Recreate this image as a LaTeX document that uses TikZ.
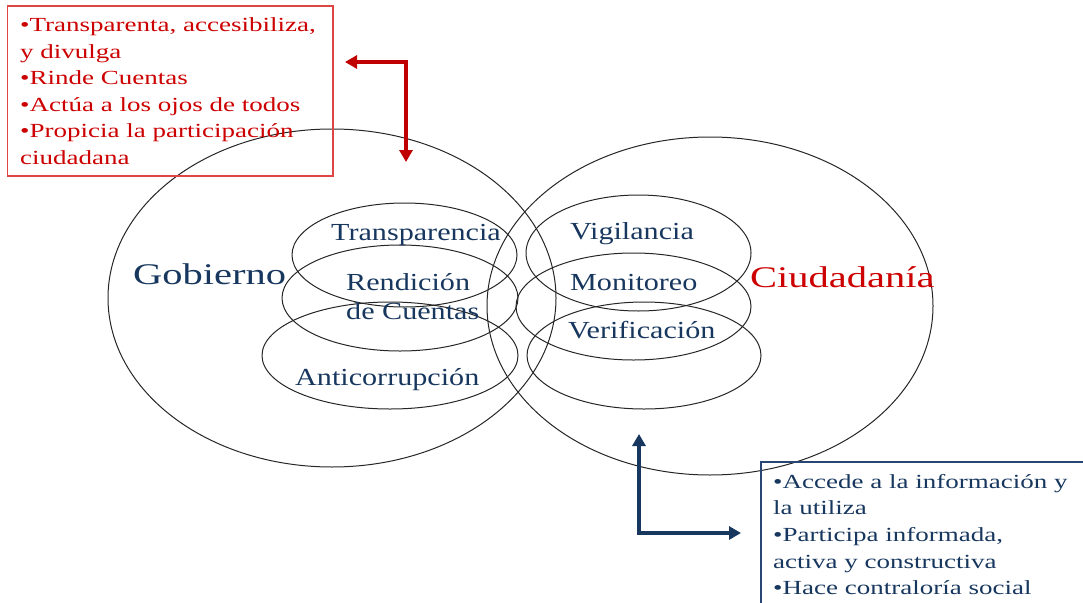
\documentclass[tikz,border=0pt]{standalone}
\usepackage{fontspec}
\setmainfont{Liberation Serif}
\newfontfamily\wideserif[FakeStretch=1.35]{Liberation Serif}
\newfontfamily\midserif[FakeStretch=1.23]{Liberation Serif}
\usetikzlibrary{arrows.meta}
\definecolor{navy}{RGB}{23,55,94}
\definecolor{redtxt}{RGB}{204,0,0}
\definecolor{redbox}{RGB}{222,70,70}
\definecolor{redarrow}{RGB}{192,0,0}
\definecolor{bluebox}{RGB}{40,70,115}
\tikzset{
  ring/.style={draw=black!85, line width=1pt},
  boxtext/.style={anchor=base west, inner sep=0pt, font=\wideserif\fontsize{20}{24}\selectfont},
  midtext/.style={anchor=base west, inner sep=0pt, text=navy, font=\midserif\fontsize{24.5}{28}\selectfont},
  bigtext/.style={anchor=base west, inner sep=0pt, font=\wideserif\fontsize{30}{34}\selectfont},
  elbow/.style={line width=3.8pt, line join=miter, {Triangle[length=12pt,width=13pt]}-{Triangle[length=12pt,width=13pt]}}
}
\begin{document}
\begin{tikzpicture}[x=1pt,y=-1pt]
\useasboundingbox (0,0) rectangle (1083,602);
\begin{scope}
\clip (0,0) rectangle (1083,602);
% big ellipses
\draw[ring] (332,298) ellipse [x radius=224pt, y radius=169pt];
\draw[ring] (710,306) ellipse [x radius=223pt, y radius=169pt];
% small ellipses left
\draw[ring] (404.5,255) ellipse [x radius=112.5pt, y radius=52pt];
\draw[ring] (400,298) ellipse [x radius=118pt, y radius=53pt];
\draw[ring] (390,355.5) ellipse [x radius=128pt, y radius=53.5pt];
% small ellipses right
\draw[ring] (638.5,253) ellipse [x radius=112.5pt, y radius=58pt];
\draw[ring] (633.5,306.5) ellipse [x radius=117.5pt, y radius=53.5pt];
\draw[ring] (644,355.5) ellipse [x radius=117pt, y radius=53.5pt];
% boxes
\draw[draw=redbox, line width=1.5pt] (7.5,6) rectangle (333,176);
\draw[draw=bluebox, line width=1.5pt] (761,462) rectangle (1095,615);
\end{scope}
% labels
\node[bigtext, text=navy] (gob) at (133,284) {Gobierno};
\node[bigtext, text=redtxt] (ciu) at (750,287) {Ciudadanía};
\node[midtext] (t1) at (331,240) {Transparencia};
\node[midtext] (t2) at (346,290) {Rendición};
\node[midtext] (t3) at (346,319) {de Cuentas};
\node[midtext] (t4) at (295,385) {Anticorrupción};
\node[midtext] (t5) at (570,239) {Vigilancia};
\node[midtext] (t6) at (570,290) {Monitoreo};
\node[midtext] (t7) at (568,338) {Verificación};
% top box text
\node[boxtext, text=redtxt] (r1) at (20,31.7) {•Transparenta, accesibiliza,};
\node[boxtext, text=redtxt] (r2) at (20,58.2) {y divulga};
\node[boxtext, text=redtxt] (r3) at (20,84.7) {•Rinde Cuentas};
\node[boxtext, text=redtxt] (r4) at (20,111.2) {•Actúa a los ojos de todos};
\node[boxtext, text=redtxt] (r5) at (20,137.7) {•Propicia la participación};
\node[boxtext, text=redtxt] (r6) at (20,164.2) {ciudadana};
% bottom box text
\node[boxtext, text=navy] (b1) at (773,488) {•Accede a la información y};
\node[boxtext, text=navy] (b2) at (773,514.7) {la utiliza};
\node[boxtext, text=navy] (b3) at (773,541.4) {•Participa informada,};
\node[boxtext, text=navy] (b4) at (773,568.1) {activa y constructiva};
\node[boxtext, text=navy] (b5) at (773,594.8) {•Hace contraloría social};
% arrows
\coordinate (ra) at (345,62);
\coordinate (rc) at (406,62);
\coordinate (rb) at (406,162);
\draw[elbow, draw=redarrow] (ra) -- (rc) -- (rb);
\coordinate (ba) at (639,434);
\coordinate (bc) at (639,533);
\coordinate (bb) at (741,533);
\draw[elbow, draw=navy] (ba) -- (bc) -- (bb);
\end{tikzpicture}
\end{document}
